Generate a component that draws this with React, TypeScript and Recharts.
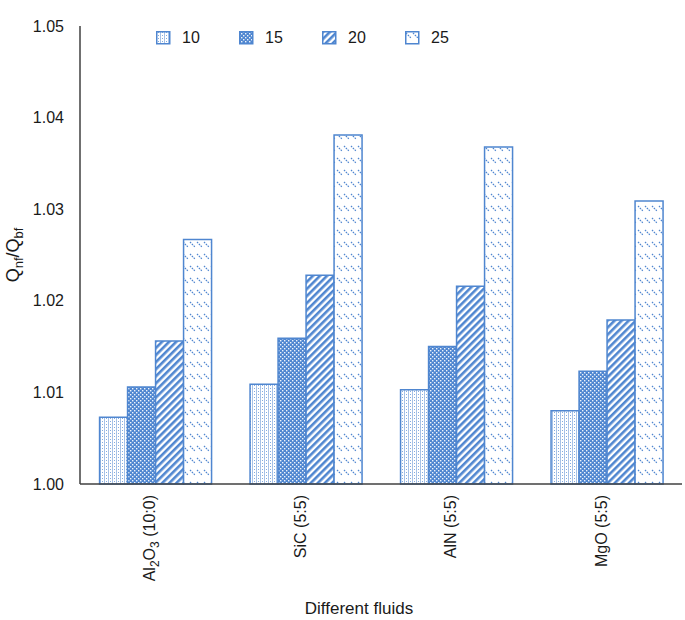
import React from 'react';
import { BarChart, Bar, XAxis, YAxis, Legend } from 'recharts';

const categories = ['Al2O3 (10:0)', 'SiC (5:5)', 'AlN (5:5)', 'MgO (5:5)'];
const series10 = [1.0073, 1.0109, 1.0103, 1.008];
const series15 = [1.0106, 1.0159, 1.015, 1.0123];
const series20 = [1.0156, 1.0228, 1.0216, 1.0179];
const series25 = [1.0267, 1.0381, 1.0368, 1.0309];
const seriesNames = ['10', '15', '20', '25'];
const yTicks = [1.0, 1.01, 1.02, 1.03, 1.04, 1.05];

const data = categories.map((name, i) => ({
  name,
  s10: series10[i],
  s15: series15[i],
  s20: series20[i],
  s25: series25[i],
}));

const BLUE = '#4f86d0';
const FONT = 'Liberation Sans, Arial, Helvetica, sans-serif';
const keys = ['s10', 's15', 's20', 's25'];

function Patterns() {
  return (
    <svg width={0} height={0} style={{ position: 'absolute' }}>
      <defs>
        {/* light dotted */}
        <pattern id="p10" width={4} height={3} patternUnits="userSpaceOnUse">
          <rect width={4} height={3} fill="#fff" />
          <rect x={0} y={0} width={1} height={3} fill={BLUE} opacity={0.5} />
          <rect x={2} y={1} width={1} height={1} fill={BLUE} opacity={0.7} />
        </pattern>
        {/* dense blue with white dots */}
        <pattern id="p15" width={4} height={4} patternUnits="userSpaceOnUse">
          <rect width={4} height={4} fill={BLUE} />
          <rect x={0} y={0} width={1.4} height={1.4} fill="#fff" opacity={0.9} />
          <rect x={2} y={2} width={1.4} height={1.4} fill="#fff" opacity={0.9} />
        </pattern>
        {/* wide upward diagonal */}
        <pattern id="p20" width={5} height={5} patternUnits="userSpaceOnUse" patternTransform="rotate(45)">
          <rect width={5} height={5} fill="#fff" />
          <rect x={0} y={0} width={2.6} height={5} fill={BLUE} />
        </pattern>
        {/* dashed downward diagonal */}
        <pattern id="p25" width={7} height={12} patternUnits="userSpaceOnUse">
          <rect width={7} height={12} fill="#fff" />
          <line x1={1} y1={2} x2={6} y2={7} stroke={BLUE} strokeWidth={1.2} strokeDasharray="1.6 1" />
        </pattern>
      </defs>
    </svg>
  );
}

function renderName(name: string) {
  const [formula, ...rest] = name.split(' ');
  const parts = formula.match(/[A-Za-z]+|\d+/g) || [];
  return (
    <>
      {parts.map((p, i) =>
        /\d/.test(p) ? (
          <tspan key={i} dy={4} fontSize={12}>{p}</tspan>
        ) : (
          <tspan key={i} dy={i > 0 && /\d/.test(parts[i - 1]) ? -4 : 0}>{p}</tspan>
        )
      )}
      <tspan dy={/\d/.test(parts[parts.length - 1]) ? -4 : 0}>{' ' + rest.join(' ')}</tspan>
    </>
  );
}

function XTick(props: any) {
  const { x, y, payload } = props;
  return (
    <g transform={`translate(${x},${y})`}>
      <text
        transform="rotate(-90)"
        x={-11}
        y={0}
        dy="0.35em"
        textAnchor="end"
        fontSize={16}
        fontFamily={FONT}
        fill="#1a1a1a"
      >
        {renderName(payload.value)}
      </text>
    </g>
  );
}

function YLabel(props: any) {
  const { viewBox } = props;
  const cy = viewBox.y + viewBox.height / 2;
  const cx = 13;
  return (
    <text
      transform={`rotate(-90, ${cx}, ${cy})`}
      x={cx}
      y={cy}
      dy="0.35em"
      textAnchor="middle"
      fontSize={18}
      fontFamily={FONT}
      fill="#1a1a1a"
    >
      Q<tspan dy={4} fontSize={13}>nf</tspan>
      <tspan dy={-4}>/Q</tspan>
      <tspan dy={4} fontSize={13}>bf</tspan>
    </text>
  );
}

function XLabel(props: any) {
  const { viewBox } = props;
  return (
    <text
      x={viewBox.x + viewBox.width / 2 - 22}
      y={614}
      textAnchor="middle"
      fontSize={17}
      fontFamily={FONT}
      fill="#1a1a1a"
    >
      Different fluids
    </text>
  );
}

function LegendContent() {
  return (
    <div style={{ display: 'flex', fontFamily: FONT, fontSize: 16, color: '#1a1a1a' }}>
      {seriesNames.map((n) => (
        <div key={n} style={{ display: 'flex', alignItems: 'center', width: 83 }}>
          <svg width={15} height={14} style={{ marginRight: 11 }}>
            <rect x={0.75} y={0.75} width={13} height={12} fill={`url(#p${n})`} stroke={BLUE} strokeWidth={1.5} />
          </svg>
          <span>{n}</span>
        </div>
      ))}
    </div>
  );
}

export default function App() {
  return (
    <div style={{ position: 'absolute', left: 0, top: 0, width: 685, height: 620, background: '#fff' }}>
      <Patterns />
      <BarChart
        width={685}
        height={620}
        data={data}
        margin={{ top: 8, right: 3, left: 20, bottom: 26 }}
        barGap={0}
        barCategoryGap="13%"
      >
        <XAxis
          dataKey="name"
          height={110}
          tickLine={false}
          tickSize={0}
          tickMargin={0}
          interval={0}
          axisLine={{ stroke: '#404040', strokeWidth: 1.5 }}
          tick={<XTick />}
          label={<XLabel />}
        />
        <YAxis
          width={60}
          domain={[1, 1.05]}
          ticks={yTicks}
          tickFormatter={(v: number) => v.toFixed(2)}
          tickLine={false}
          tickSize={0}
          tickMargin={16}
          axisLine={{ stroke: '#404040', strokeWidth: 1.5 }}
          tick={{ fontSize: 16, fontFamily: FONT, fill: '#1a1a1a' }}
          label={<YLabel />}
        />
        <Legend
          verticalAlign="top"
          content={<LegendContent />}
          wrapperStyle={{ top: 29, left: 156, width: 340 }}
        />
        {keys.map((k, i) => (
          <Bar
            key={k}
            dataKey={k}
            name={seriesNames[i]}
            fill={`url(#p${seriesNames[i]})`}
            stroke={BLUE}
            strokeWidth={1.5}
            isAnimationActive={false}
          />
        ))}
      </BarChart>
    </div>
  );
}
